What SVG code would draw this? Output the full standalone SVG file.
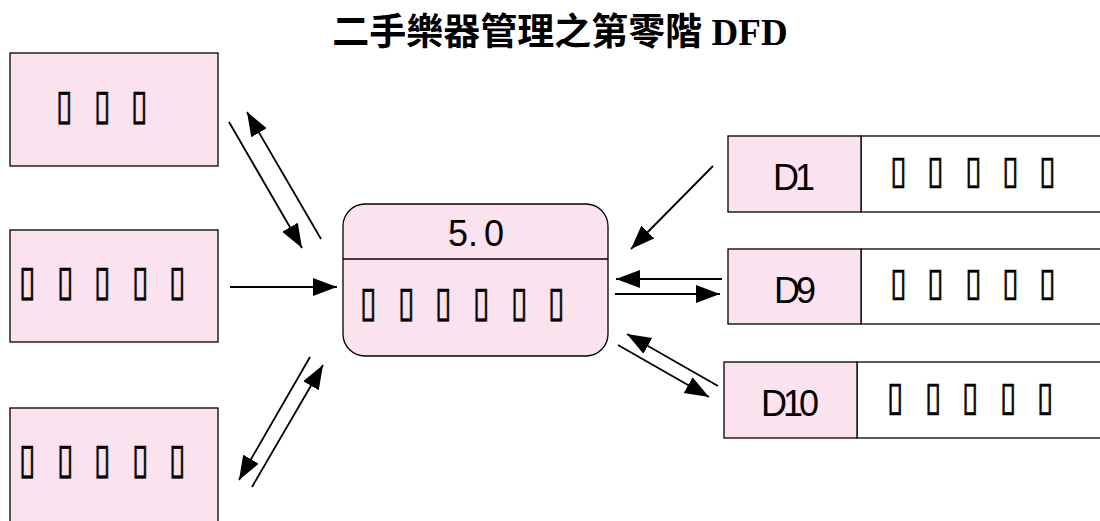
<svg xmlns="http://www.w3.org/2000/svg" width="1100" height="521" viewBox="0 0 1100 521">
<style>
.box{fill:#fbe2ef;stroke:#000;stroke-width:1.3}
.wbox{fill:#fff;stroke:#000;stroke-width:1.3}
.lbl{font-family:"Liberation Sans",Arial,sans-serif;font-size:36px;fill:#000;text-anchor:middle;letter-spacing:-4px}
.tofu{font-family:"DejaVu Sans",sans-serif;font-size:30px;fill:#000;stroke:#000;stroke-width:0.5}
.title{font-family:"Liberation Serif","Noto Sans CJK TC",serif;font-size:37px;font-weight:bold;fill:#000;text-anchor:middle}
.conn line{stroke:#000;stroke-width:1.8;fill:none;marker-end:url(#ah)}
</style>
<defs>
<marker id="ah" markerUnits="userSpaceOnUse" markerWidth="26" markerHeight="20" refX="24" refY="9" orient="auto">
<path d="M0,0 L24,9 L0,18 Z" fill="#000"/>
</marker>
</defs>
<rect width="1100" height="521" fill="#fff"/>
<text class="title" x="560" y="45">二手樂器管理之第零階 DFD</text>

<g id="e1">
<rect class="box" x="10" y="53" width="208" height="113"/>
<text class="tofu" transform="translate(0,119) scale(1,1.4)" x="56 94 131" y="0">▯▯▯</text>
</g>
<g id="e2">
<rect class="box" x="10" y="230" width="208" height="112"/>
<text class="tofu" transform="translate(0,295) scale(1,1.4)" x="19 57 94 132 169" y="0">▯▯▯▯▯</text>
</g>
<g id="e3">
<rect class="box" x="10" y="408" width="208" height="120"/>
<text class="tofu" transform="translate(0,473) scale(1,1.4)" x="19 57 94 132 169" y="0">▯▯▯▯▯</text>
</g>

<g id="p50">
<rect class="box" x="343" y="204" width="265" height="152" rx="22" ry="22"/>
<line x1="343" y1="259" x2="608" y2="259" stroke="#000" stroke-width="1.3"/>
<text class="lbl" x="476" y="246" style="letter-spacing:0">5.<tspan dx="6">0</tspan></text>
<text class="tofu" transform="translate(0,316) scale(1,1.4)" x="360 398 435 473 511 548" y="0">▯▯▯▯▯▯</text>
</g>

<g id="d1">
<rect class="wbox" x="861" y="136" width="250" height="76"/>
<rect class="box" x="728" y="136" width="133" height="76"/>
<text class="lbl" x="792" y="190">D1</text>
<text class="tofu" transform="translate(0,183) scale(1,1.3)" x="890 927 965 1002 1039" y="0">▯▯▯▯▯</text>
</g>
<g id="d9">
<rect class="wbox" x="861" y="249" width="250" height="75"/>
<rect class="box" x="728" y="249" width="133" height="75"/>
<text class="lbl" x="793" y="303">D9</text>
<text class="tofu" transform="translate(0,295) scale(1,1.3)" x="890 927 965 1002 1039" y="0">▯▯▯▯▯</text>
</g>
<g id="d10">
<rect class="wbox" x="857" y="362" width="250" height="76"/>
<rect class="box" x="724" y="362" width="133" height="76"/>
<text class="lbl" x="788" y="416">D10</text>
<text class="tofu" transform="translate(0,410) scale(1,1.35)" x="887 925 962 1000 1037" y="0">▯▯▯▯▯</text>
</g>

<g id="connectors" class="conn">
<line x1="229" y1="122" x2="302" y2="248"/>
<line x1="321" y1="239" x2="247" y2="112"/>
<line x1="230" y1="287" x2="337" y2="287"/>
<line x1="310" y1="357" x2="239" y2="480"/>
<line x1="252" y1="487" x2="323" y2="365"/>
<line x1="713" y1="166" x2="631" y2="249"/>
<line x1="722" y1="279" x2="616" y2="279"/>
<line x1="615" y1="294" x2="720" y2="294"/>
<line x1="718" y1="386" x2="627" y2="334"/>
<line x1="618" y1="345" x2="709" y2="397"/>
</g>
</svg>
